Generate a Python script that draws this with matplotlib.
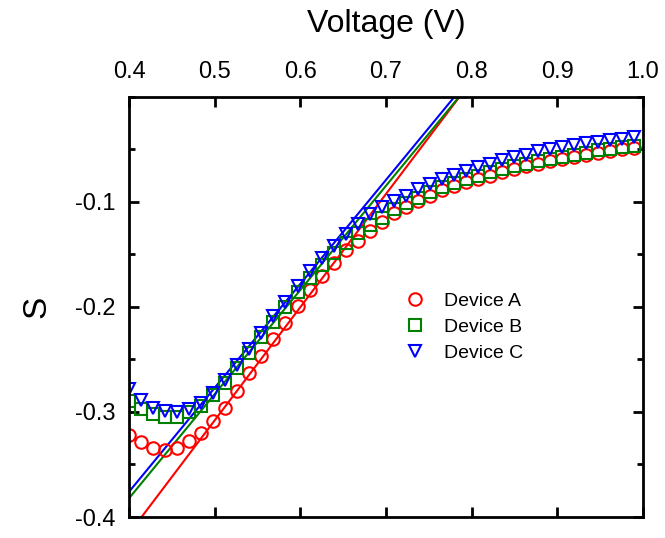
import numpy as np
import matplotlib
matplotlib.use('Agg')
import matplotlib.pyplot as plt
from matplotlib.ticker import MultipleLocator

plt.rcParams['font.family'] = ['Liberation Sans', 'DejaVu Sans']
plt.rcParams['axes.unicode_minus'] = False

# voltage grid of the measured points
voltage = np.linspace(0.4, 0.99, 43)

s_a = [-0.322, -0.329, -0.334, -0.336, -0.334, -0.328, -0.320, -0.309, -0.296, -0.280,
       -0.263, -0.247, -0.231, -0.215, -0.199, -0.184, -0.171, -0.158, -0.146, -0.137,
       -0.128, -0.119, -0.111, -0.105, -0.099, -0.094, -0.089, -0.085, -0.081, -0.078,
       -0.075, -0.072, -0.069, -0.066, -0.064, -0.061, -0.059, -0.057, -0.055, -0.053,
       -0.052, -0.050, -0.049]
s_b = [-0.290, -0.297, -0.302, -0.305, -0.305, -0.300, -0.294, -0.284, -0.272, -0.258,
       -0.244, -0.229, -0.214, -0.200, -0.186, -0.172, -0.160, -0.149, -0.139, -0.130,
       -0.122, -0.115, -0.107, -0.101, -0.096, -0.091, -0.086, -0.082, -0.078, -0.075,
       -0.072, -0.069, -0.066, -0.064, -0.061, -0.059, -0.057, -0.055, -0.053, -0.051,
       -0.050, -0.048, -0.047]
s_c = [-0.278, -0.289, -0.296, -0.2995, -0.300, -0.2975, -0.291, -0.282, -0.270, -0.2555,
       -0.240, -0.225, -0.209, -0.195, -0.180, -0.166, -0.153, -0.142, -0.131, -0.121,
       -0.112, -0.105, -0.099, -0.094, -0.088, -0.083, -0.078, -0.074, -0.071, -0.067,
       -0.064, -0.060, -0.057, -0.055, -0.052, -0.050, -0.048, -0.046, -0.044, -0.043,
       -0.041, -0.040, -0.038]

# linear fits: slope, intercept
fit_a = (1.078, -0.847)
fit_b = (0.992, -0.779)
fit_c = (0.990, -0.772)

labels = ['Device A', 'Device B', 'Device C']
colors = ['red', 'green', 'blue']
markers = ['o', 's', 'v']

fig = plt.figure(figsize=(6.65, 5.38), dpi=100)
ax = fig.add_axes([0.194, 0.039, 0.773, 0.781])

vfit = np.array([0.4, 1.0])
for (m, b), c in zip([fit_a, fit_b, fit_c], colors):
    ax.plot(vfit, m * vfit + b, color=c, lw=1.5)

for s, c, mk, lab in zip([s_a, s_b, s_c], colors, markers, labels):
    ax.plot(voltage, s, linestyle='none', marker=mk, ms=9, mfc='none',
            mec=c, mew=1.5, label=lab)

ax.set_xlim(0.4, 1.0)
ax.set_ylim(-0.4, 0.0)
ax.set_yticks([-0.4, -0.3, -0.2, -0.1])
ax.yaxis.set_minor_locator(MultipleLocator(0.05))
ax.set_yticklabels(['-0.4', '-0.3', '-0.2', '-0.1'])
ax.set_xticks([0.4, 0.5, 0.6, 0.7, 0.8, 0.9, 1.0])
ax.set_xticklabels(['0.4', '0.5', '0.6', '0.7', '0.8', '0.9', '1.0'])

ax.xaxis.tick_top()
ax.xaxis.set_label_position('top')
ax.tick_params(which='both', direction='in', top=True, bottom=True,
               left=True, right=True, labelbottom=False, labeltop=True,
               width=2, labelsize=17)
ax.tick_params(which='major', length=7, pad=10)
ax.tick_params(which='minor', length=4)
for sp in ax.spines.values():
    sp.set_linewidth(2)

ax.set_xlabel('Voltage (V)', fontsize=23, labelpad=21)
ax.set_ylabel('S', fontsize=24, labelpad=16)

ax.legend(loc='center left', bbox_to_anchor=(0.503, 0.452), frameon=False,
          fontsize=14, handletextpad=1.0, labelspacing=0.45, handlelength=1.0)

fig.savefig('out.png', dpi=100)
